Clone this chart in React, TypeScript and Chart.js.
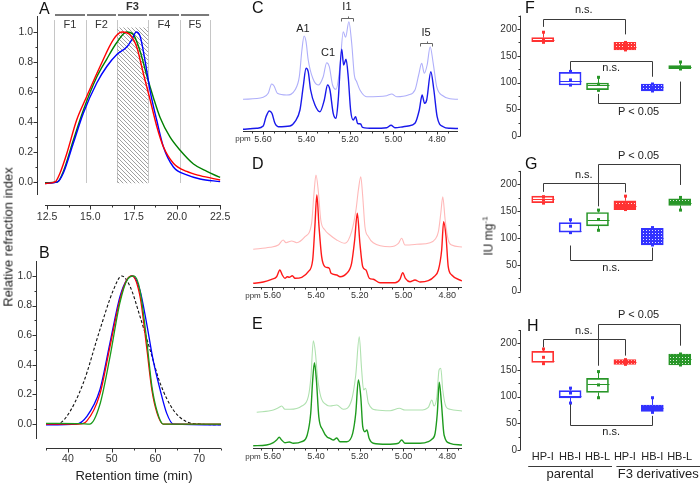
import React, { useEffect, useRef } from 'react';
import { Chart, registerables } from 'chart.js';

Chart.register(...registerables);

const FONT = '"Liberation Sans", Arial, Helvetica, sans-serif';
Chart.defaults.font.family = FONT;
Chart.defaults.color = '#222';

// ================= DATA =================
// Panel A: SEC of fractions (retention time, min / relative RI)
const aRedTime = [12.38, 12.96, 13.25, 13.64, 14.2, 14.79, 15.56, 16.33, 16.82, 17.3, 17.68, 18.07, 18.45, 18.84, 19.22, 19.8, 20.57, 21.34, 22.5];
const aRedRI = [-0.01, 0.0, 0.06, 0.19, 0.41, 0.57, 0.77, 0.95, 1.0, 0.98, 0.9, 0.72, 0.55, 0.37, 0.235, 0.125, 0.07, 0.042, 0.013];
const aBlueTime = [12.38, 13.1, 13.44, 14.02, 14.6, 15.37, 15.95, 16.53, 17.1, 17.4, 17.65, 17.88, 18.16, 18.45, 18.84, 19.22, 19.8, 20.57, 21.34, 22.5];
const aBlueRI = [-0.01, 0.0, 0.06, 0.26, 0.46, 0.66, 0.77, 0.85, 0.9, 0.95, 1.0, 0.97, 0.81, 0.61, 0.41, 0.235, 0.1, 0.047, 0.02, 0.002];
const aGreenTime = [12.38, 13.1, 13.44, 14.02, 14.6, 15.37, 15.95, 16.53, 17.1, 17.5, 17.88, 18.26, 18.65, 19.03, 19.6, 20.2, 20.96, 21.73, 22.5];
const aGreenRI = [-0.005, 0.0, 0.07, 0.28, 0.48, 0.7, 0.82, 0.93, 1.0, 0.98, 0.87, 0.71, 0.56, 0.43, 0.3, 0.21, 0.12, 0.07, 0.03];
const aHatchTime = [16.54, 18.33];
const aHatchTop = [1.03, 1.03];
const aFractionEdges = [12.9, 14.75, 16.54, 18.33, 20.18, 21.92];
const aFractionNames = ['F1', 'F2', 'F3', 'F4', 'F5'];
const aXTicks = [12.5, 15, 17.5, 20, 22.5];
const aXMinor = [13.75, 16.25, 18.75, 21.25];
const riTicks = [0, 0.2, 0.4, 0.6, 0.8, 1.0];
const riMinor = [0.1, 0.3, 0.5, 0.7, 0.9];

// Panel B
const bBlackTime = [35, 37.4, 39.7, 43.5, 47.3, 50.4, 52.3, 54.2, 56.5, 58.8, 61.1, 64.1, 67.2, 70.2, 75];
const bBlackRI = [0, 0, 0.05, 0.275, 0.635, 0.905, 1.0, 0.93, 0.725, 0.5, 0.275, 0.095, 0.015, 0, -0.005];
const bBlueTime = [35, 42.0, 44.3, 47.3, 49.6, 51.9, 53.4, 54.8, 56.5, 58.0, 59.5, 61.1, 62.6, 64.1, 75];
const bBlueRI = [-0.005, 0, 0.05, 0.23, 0.545, 0.86, 0.97, 1.0, 0.9, 0.68, 0.43, 0.23, 0.072, 0.0, -0.005];
const bRedTime = [35, 42.5, 44.3, 47.3, 49.6, 51.9, 53.4, 54.6, 56.5, 58.0, 59.2, 60.4, 61.8, 75];
const bRedRI = [0, 0, 0.02, 0.2, 0.52, 0.84, 0.97, 1.0, 0.86, 0.52, 0.23, 0.072, 0, 0];
const bGreenTime = [35, 43, 45.0, 47.3, 49.6, 51.9, 53.7, 55.1, 56.5, 58.0, 59.2, 60.4, 61.8, 75];
const bGreenRI = [0.005, 0.003, 0, 0.13, 0.45, 0.82, 0.98, 1.0, 0.9, 0.57, 0.255, 0.085, 0, 0];
const bXTicks = [40, 50, 60, 70];
const bXMinor = [35, 45, 55, 65, 75];

// Panels C-E: 1H NMR (ppm / intensity)
const nmrTicks = [5.6, 5.4, 5.2, 5.0, 4.8];
const nmrMinor = [5.65, 5.55, 5.5, 5.45, 5.35, 5.3, 5.25, 5.15, 5.1, 5.05, 4.95, 4.9, 4.85, 4.75];

const cDarkPpm = [5.692, 5.629, 5.599, 5.586, 5.571, 5.559, 5.545, 5.53, 5.476, 5.453, 5.43, 5.415, 5.402, 5.392, 5.381, 5.361, 5.338, 5.318, 5.303, 5.292, 5.277, 5.264, 5.254, 5.238, 5.229, 5.218, 5.208, 5.197, 5.185, 5.174, 5.165, 5.151, 5.142, 5.093, 5.031, 5.011, 4.993, 4.955, 4.932, 4.901, 4.881, 4.868, 4.857, 4.847, 4.828, 4.814, 4.799, 4.771, 4.74, 4.703];
const cDarkInt = [0.7, 1.7, 4, 13.3, 19, 16.7, 6.7, 3.3, 4, 8.3, 20, 43.3, 61.7, 58.3, 40, 25, 18.3, 30, 45, 40, 16.7, 11.7, 30, 80.7, 65, 70.7, 53.3, 20, 10, 13.3, 6.7, 6, 2.7, 1.7, 2.3, 4.7, 2.3, 3.3, 4, 6.7, 20, 35, 26.7, 30, 58.3, 40, 13.3, 3.3, 1.7, 1.5];
const cLightPpm = [5.692, 5.599, 5.576, 5.56, 5.549, 5.534, 5.491, 5.453, 5.433, 5.421, 5.411, 5.402, 5.392, 5.371, 5.346, 5.323, 5.307, 5.295, 5.28, 5.264, 5.246, 5.231, 5.22, 5.205, 5.192, 5.18, 5.169, 5.154, 5.123, 5.031, 5.008, 4.985, 4.932, 4.901, 4.884, 4.87, 4.858, 4.845, 4.831, 4.817, 4.801, 4.771, 4.74, 4.703];
const cLightInt = [30.7, 32.7, 36.7, 46, 44, 36.7, 35, 40, 53.3, 80, 94, 88.3, 70, 51.7, 45, 53.3, 67.3, 63.3, 45, 40.7, 63.3, 98.3, 92.7, 108.3, 86.7, 55, 48.3, 40, 33.3, 34.3, 36, 33.3, 35, 40, 55, 66.7, 56.7, 65, 83.3, 66.7, 43.3, 34, 31.3, 30.7];
const cPeakNames = ['A1', 'C1', 'I1', 'I5'];
const cPeakPpm = [5.416, 5.301, 5.214, 4.85];
const cPeakLabelInt = [101, 77, 123, 97];
const cGroupFrom = [5.241, 4.878];
const cGroupTo = [5.186, 4.823];
const cGroupInt = [112, 87];

const dDarkPpm = [5.687, 5.641, 5.603, 5.58, 5.565, 5.554, 5.542, 5.531, 5.522, 5.508, 5.496, 5.465, 5.435, 5.415, 5.405, 5.396, 5.386, 5.374, 5.359, 5.339, 5.331, 5.305, 5.29, 5.259, 5.237, 5.223, 5.211, 5.199, 5.186, 5.171, 5.156, 5.138, 5.107, 5.038, 5.016, 5.003, 4.991, 4.97, 4.947, 4.924, 4.886, 4.86, 4.84, 4.825, 4.816, 4.805, 4.795, 4.779, 4.732];
const dDarkInt = [1.7, 3, 5.7, 8.3, 15, 10, 6.7, 8.3, 7.7, 9.3, 6.7, 7.7, 13.3, 25, 58.3, 90, 58.3, 28.3, 18.3, 16.7, 11.7, 10, 8.3, 11.7, 21.7, 45, 71.7, 41.7, 18.3, 15, 6.7, 5.7, 2.3, 2.3, 5.7, 12.3, 6.7, 3.3, 5, 3, 4.3, 8.3, 15, 35, 63.3, 48.3, 18.3, 10, 4];
const dLightPpm = [5.687, 5.61, 5.572, 5.55, 5.537, 5.511, 5.488, 5.45, 5.42, 5.409, 5.4, 5.389, 5.378, 5.359, 5.336, 5.305, 5.267, 5.237, 5.217, 5.206, 5.195, 5.186, 5.176, 5.16, 5.138, 5.061, 5.023, 5.008, 4.993, 4.939, 4.878, 4.855, 4.84, 4.829, 4.82, 4.809, 4.795, 4.779, 4.732];
const dLightInt = [35.7, 37.7, 40, 45, 42.3, 44, 42.3, 48.3, 61.7, 91.7, 110, 93.3, 65, 55, 50, 45, 41.7, 53.3, 75, 95, 108.3, 88.3, 58.3, 48.3, 42.3, 38.3, 41.7, 46.7, 40, 40.7, 42.3, 45.7, 53.3, 71.7, 88.3, 65, 45, 40, 38];

const eDarkPpm = [5.687, 5.626, 5.595, 5.58, 5.568, 5.557, 5.542, 5.522, 5.504, 5.465, 5.44, 5.424, 5.415, 5.407, 5.398, 5.387, 5.369, 5.348, 5.336, 5.32, 5.305, 5.29, 5.259, 5.232, 5.218, 5.206, 5.195, 5.186, 5.176, 5.167, 5.157, 5.138, 5.076, 5.023, 5.008, 4.993, 4.924, 4.886, 4.87, 4.855, 4.845, 4.836, 4.826, 4.814, 4.787, 4.732];
const eDarkInt = [1.3, 2, 4.3, 7, 9.7, 7, 4.3, 5, 3.7, 5.3, 12, 33.7, 67, 84.3, 67, 30.3, 17, 9.7, 8.7, 7, 9, 5.3, 5.3, 13.7, 33.7, 67, 50.3, 20.3, 15.3, 17, 8.7, 3.7, 2.7, 3.7, 7, 3.7, 3.7, 5.3, 7.7, 13.7, 33.7, 64.7, 43.7, 12, 3.7, 2];
const eLightPpm = [5.671, 5.595, 5.568, 5.557, 5.542, 5.519, 5.465, 5.435, 5.423, 5.412, 5.403, 5.393, 5.378, 5.351, 5.336, 5.305, 5.275, 5.237, 5.218, 5.202, 5.191, 5.182, 5.173, 5.16, 5.122, 5.061, 5.018, 4.993, 4.924, 4.886, 4.87, 4.86, 4.847, 4.837, 4.829, 4.82, 4.805, 4.787, 4.732];
const eLightInt = [34.7, 37, 39.7, 41, 37.7, 37.7, 41, 50.3, 70.3, 106.3, 95.3, 70.3, 50.3, 42, 41, 42, 37.7, 47, 72, 110.3, 77, 57, 58.7, 43.7, 37, 36.3, 38.7, 37, 37, 39.7, 47, 41, 50.3, 77, 78.7, 57, 40.3, 37.7, 36];

// Panels F-H: activity box plots (IU mg-1)
const boxCategories = ['HP-I', 'HB-I', 'HB-L', 'HP-I', 'HB-I', 'HB-L'];
const boxGroupNames = ['parental', 'F3 derivatives'];
const boxGroupFrom = [0, 3];
const boxGroupTo = [2, 5];
const boxTicks = [0, 50, 100, 150, 200];
const boxMinor = [25, 75, 125, 175, 225];

const fQ1 = [176.4, 95.7, 87, 161, 84.5, 126];
const fQ3 = [183.9, 119.3, 99.4, 175, 97.5, 131.7];
const fMedian = [180, 103, 95, 167, 91, 129];
const fLow = [175.2, 95.5, 85.7, 161, 84.5, 125.5];
const fHigh = [194, 121, 110, 175, 97.5, 138.5];
const fMean = [180, 105, 97, 168, 91, 129];
const fSigFrom = [0, 1, 2];
const fSigTo = [3, 4, 5];
const fSigLevel = [218.6, 140, 62.7];
const fSigLeftEnd = [204, 123.6, 79];
const fSigRightEnd = [190, 111, 102];
const fSigText = ['n.s.', 'n.s.', 'P < 0.05'];
const fSigTextAt = [235, 126.7, 46];

const gQ1 = [166, 111, 122.5, 153, 87, 160.6];
const gQ3 = [178, 128.8, 147.5, 169.4, 118, 173];
const gMedian = [173, 113, 134.4, 160, 100, 166];
const gLow = [165, 110, 114.4, 153, 87, 152];
const gHigh = [177, 134, 152, 178, 119.4, 175.6];
const gMean = [171, 122, 134.4, 162, 103, 166];
const gSigFrom = [0, 2, 1];
const gSigTo = [3, 5, 4];
const gSigLevel = [201.9, 238, 59.4];
const gSigLeftEnd = [186, 159, 86];
const gSigRightEnd = [185, 198.8, 82];
const gSigText = ['n.s.', 'P < 0.05', 'n.s.'];
const gSigTextAt = [217.5, 253, 44.4];

const hQ1 = [164.4, 97.5, 108, 160.6, 72.5, 159.4];
const hQ3 = [185, 111.3, 134.4, 169.4, 84.4, 180];
const hMedian = [167.5, 102, 123, 165, 78, 170];
const hLow = [161.9, 88, 98, 160.6, 70.6, 159.4];
const hHigh = [189.4, 116, 147, 169.4, 98, 180];
const hMean = [173.8, 106.9, 122, 165, 78, 170];
const hSigFrom = [0, 2, 1];
const hSigTo = [3, 5, 4];
const hSigLevel = [208, 236, 46.9];
const hSigLeftEnd = [192.5, 158, 86];
const hSigRightEnd = [177, 195.6, 64];
const hSigText = ['n.s.', 'P < 0.05', 'n.s.'];
const hSigTextAt = [223.8, 253, 33];

// ================= STYLE =================
const RED = 'rgb(255,50,50)';
const BLUE = 'rgb(50,50,255)';
const GREEN = 'rgb(40,150,40)';
const boxPalette = [RED, BLUE, GREEN, RED, BLUE, GREEN];

const xy = (xs: number[], ys: number[]) => xs.map((x, i) => ({ x, y: ys[i] }));
const fixedTicks = (vals: number[]) => (s: any) => { s.ticks = vals.map((value) => ({ value })); };
const fixedWidth = (w: number) => (s: any) => { s.width = w; s.paddingTop = 0; s.paddingBottom = 0; };
const fixedHeight = (h: number) => (s: any) => { s.height = h; s.paddingLeft = 0; s.paddingRight = 0; };
const hidden = { grid: { display: false, drawTicks: false }, border: { display: false } };

function makeHatch(): CanvasPattern {
  const c = document.createElement('canvas');
  c.width = 4; c.height = 4;
  const g = c.getContext('2d')!;
  g.fillStyle = '#a0a0a0';
  for (let i = 0; i < 4; i++) g.fillRect(i, i, 1, 1);
  return g.createPattern(c, 'repeat')!;
}
function makeCheck(color: string): CanvasPattern {
  const c = document.createElement('canvas');
  c.width = 3; c.height = 3;
  const g = c.getContext('2d')!;
  g.fillStyle = color; g.fillRect(0, 0, 3, 3);
  g.fillStyle = 'rgba(255,255,255,0.85)'; g.fillRect(1, 1, 1, 1);
  return g.createPattern(c, 'repeat')!;
}

// ================= PLUGINS =================
const framePlugin = {
  id: 'frame',
  afterDraw(chart: any, _a: any, o: any) {
    const { ctx, chartArea: ca, scales } = chart;
    ctx.save();
    ctx.strokeStyle = '#333';
    ctx.lineWidth = 1;
    ctx.beginPath();
    if (o.x) {
      const s = scales.x;
      const lo = Math.min(s.min, s.max), hi = Math.max(s.min, s.max);
      const y = Math.round(ca.bottom + o.x.offset) + 0.5;
      ctx.moveTo(ca.left, y); ctx.lineTo(ca.right, y);
      const tick = (v: number, len: number) => {
        if (v < lo || v > hi) return;
        const p = Math.round(s.getPixelForValue(v)) + 0.5;
        ctx.moveTo(p, y); ctx.lineTo(p, y + len);
      };
      o.x.major.forEach((v: number) => tick(v, o.x.majorLen));
      (o.x.minor || []).forEach((v: number) => tick(v, o.x.minorLen));
    }
    if (o.y) {
      const s = scales.y;
      const x = Math.round(ca.left - o.y.offset) + 0.5;
      ctx.moveTo(x, ca.top); ctx.lineTo(x, ca.bottom);
      const tick = (v: number, len: number) => {
        if (v < s.min || v > s.max) return;
        const p = Math.round(s.getPixelForValue(v)) + 0.5;
        ctx.moveTo(x, p); ctx.lineTo(x - len, p);
      };
      o.y.major.forEach((v: number) => tick(v, o.y.majorLen));
      (o.y.minor || []).forEach((v: number) => tick(v, o.y.minorLen));
    }
    ctx.stroke();
    ctx.restore();
  },
};

const fractionPlugin = {
  id: 'fractions',
  beforeDatasetsDraw(chart: any, _a: any, o: any) {
    const { ctx, scales: { x, y } } = chart;
    ctx.save();
    ctx.strokeStyle = '#c6c6c6';
    ctx.lineWidth = 1;
    ctx.beginPath();
    const t = y.getPixelForValue(o.lineTop), b = y.getPixelForValue(o.lineBottom);
    o.edges.forEach((e: number) => {
      const p = Math.round(x.getPixelForValue(e)) + 0.5;
      ctx.moveTo(p, t); ctx.lineTo(p, b);
    });
    ctx.stroke();
    ctx.restore();
  },
  afterDatasetsDraw(chart: any, _a: any, o: any) {
    const { ctx, scales: { x, y } } = chart;
    ctx.save();
    ctx.strokeStyle = '#7a7a7a';
    ctx.lineWidth = 2;
    const by = y.getPixelForValue(o.barY);
    ctx.beginPath();
    for (let i = 0; i < o.names.length; i++) {
      ctx.moveTo(x.getPixelForValue(o.edges[i]) + 1, by);
      ctx.lineTo(x.getPixelForValue(o.edges[i + 1]) - 1, by);
    }
    ctx.stroke();
    ctx.textAlign = 'center';
    ctx.textBaseline = 'middle';
    ctx.fillStyle = '#333';
    o.names.forEach((n: string, i: number) => {
      const mid = x.getPixelForValue((o.edges[i] + o.edges[i + 1]) / 2);
      if (n === o.bold) {
        ctx.font = `bold 11px ${FONT}`;
        ctx.fillText(n, mid, y.getPixelForValue(o.boldY));
      } else {
        ctx.font = `11px ${FONT}`;
        ctx.fillText(n, mid, y.getPixelForValue(o.labelY));
      }
    });
    ctx.restore();
  },
};

const nmrPlugin = {
  id: 'nmr',
  afterDraw(chart: any, _a: any, o: any) {
    const { ctx, chartArea: ca, scales: { x, y } } = chart;
    ctx.save();
    ctx.fillStyle = '#333';
    ctx.textAlign = 'center';
    ctx.textBaseline = 'middle';
    ctx.font = `8px ${FONT}`;
    ctx.fillText(o.unit, ca.left, ca.bottom + o.unitDy);
    if (o.names) {
      ctx.font = `11px ${FONT}`;
      ctx.fillStyle = '#222';
      o.names.forEach((n: string, i: number) => ctx.fillText(n, x.getPixelForValue(o.namePpm[i]), y.getPixelForValue(o.nameInt[i])));
      ctx.strokeStyle = '#666';
      ctx.lineWidth = 1;
      ctx.beginPath();
      o.groupFrom.forEach((f: number, i: number) => {
        const a = Math.round(x.getPixelForValue(f)) + 0.5;
        const b = Math.round(x.getPixelForValue(o.groupTo[i])) + 0.5;
        const yy = Math.round(y.getPixelForValue(o.groupInt[i])) + 0.5;
        ctx.moveTo(a, yy + 3); ctx.lineTo(a, yy); ctx.lineTo(b, yy); ctx.lineTo(b, yy + 3);
        const m = Math.round((a + b) / 2) + 0.5;
        ctx.moveTo(m, yy); ctx.lineTo(m, yy - 2);
      });
      ctx.stroke();
    }
    ctx.restore();
  },
};

const boxPlugin = {
  id: 'boxes',
  afterDatasetsDraw(chart: any, _a: any, o: any) {
    const { ctx, chartArea: ca, scales: { x, y } } = chart;
    const Y = (v: number) => y.getPixelForValue(v);
    const X = (i: number) => x.getPixelForValue(i);
    ctx.save();
    ctx.lineWidth = 1;
    o.median.forEach((m: number, i: number) => {
      const cx = Math.round(X(i)) + 0.5;
      ctx.strokeStyle = o.colors[i];
      ctx.fillStyle = o.colors[i];
      ctx.beginPath();
      const my = Math.round(Y(m)) + 0.5;
      ctx.moveTo(cx - o.half, my); ctx.lineTo(cx + o.half, my);
      if (o.high[i] > o.q3[i]) { ctx.moveTo(cx, Y(o.q3[i])); ctx.lineTo(cx, Y(o.high[i])); }
      if (o.low[i] < o.q1[i]) { ctx.moveTo(cx, Y(o.q1[i])); ctx.lineTo(cx, Y(o.low[i])); }
      ctx.stroke();
      [o.low[i], o.high[i], o.mean[i]].forEach((v: number) => ctx.fillRect(cx - 1.5, Y(v) - 1.5, 3, 3));
    });
    ctx.strokeStyle = '#3a3a3a';
    ctx.beginPath();
    o.sigFrom.forEach((f: number, i: number) => {
      const a = Math.round(X(f)) + 0.5, b = Math.round(X(o.sigTo[i])) + 0.5;
      const lv = Math.round(Y(o.sigLevel[i])) + 0.5;
      ctx.moveTo(a, Y(o.sigLeftEnd[i])); ctx.lineTo(a, lv); ctx.lineTo(b, lv); ctx.lineTo(b, Y(o.sigRightEnd[i]));
    });
    ctx.stroke();
    ctx.fillStyle = '#222';
    ctx.font = `11px ${FONT}`;
    ctx.textAlign = 'center';
    ctx.textBaseline = 'middle';
    o.sigText.forEach((t: string, i: number) => ctx.fillText(t, (X(o.sigFrom[i]) + X(o.sigTo[i])) / 2, Y(o.sigTextAt[i])));
    if (o.groups) {
      ctx.font = `13px ${FONT}`;
      ctx.beginPath();
      o.groups.names.forEach((n: string, g: number) => {
        const c = (X(o.groups.from[g]) + X(o.groups.to[g])) / 2 + o.groups.shift[g];
        const half = (X(o.groups.to[g]) - X(o.groups.from[g])) / 2 + o.groups.extra;
        const uy = Math.round(ca.bottom + o.groups.lineDy) + 0.5;
        ctx.moveTo(c - half, uy); ctx.lineTo(c + half, uy);
        ctx.fillText(n, c, ca.bottom + o.groups.textDy);
      });
      ctx.stroke();
    }
    ctx.restore();
  },
};

// ================= CONFIGS =================
const common = { responsive: false, animation: false, events: [] as any[] };
const noLegend = { legend: { display: false }, tooltip: { enabled: false } };
const curve = (xs: number[], ys: number[], color: string, width = 1.4, dash: number[] = []) => ({
  data: xy(xs, ys), borderColor: color, borderWidth: width, borderDash: dash, pointRadius: 0, cubicInterpolationMode: 'monotone', fill: false,
});
const fmt1 = (v: any) => Number(v).toFixed(1);
const fmt2 = (v: any) => Number(v).toFixed(2);

function configA(): any {
  return {
    type: 'line',
    data: {
      datasets: [
        curve(aRedTime, aRedRI, '#ff0000'),
        curve(aBlueTime, aBlueRI, '#0000ff'),
        curve(aGreenTime, aGreenRI, '#008000'),
        { data: xy(aHatchTime, aHatchTop), borderWidth: 0, pointRadius: 0, backgroundColor: makeHatch(), fill: { value: -0.009 }, order: 5 },
      ],
    },
    options: {
      ...common,
      layout: { padding: { left: 0, right: 11, top: 16, bottom: 0 } },
      plugins: {
        ...noLegend,
        frame: { x: { offset: 10, major: aXTicks, minor: aXMinor, majorLen: 4, minorLen: 2 }, y: { offset: 8, major: riTicks, minor: riMinor, majorLen: 4, minorLen: 2 } },
        fractions: { edges: aFractionEdges, names: aFractionNames, bold: 'F3', lineTop: 1.08, lineBottom: -0.007, labelY: 1.05, barY: 1.113, boldY: 1.167 },
      },
      scales: {
        x: { type: 'linear', min: 12.38, max: 22.55, afterBuildTicks: fixedTicks(aXTicks), afterFit: fixedHeight(37), ...hidden, ticks: { autoSkip: false, maxRotation: 0, padding: 16, font: { size: 10.5 }, color: '#333', callback: fmt1 } },
        y: { type: 'linear', min: -0.087, max: 1.107, afterBuildTicks: fixedTicks(riTicks), afterFit: fixedWidth(45), ...hidden, ticks: { padding: 12, font: { size: 10.5 }, color: '#333', callback: fmt1 } },
      },
    },
    plugins: [framePlugin, fractionPlugin],
  };
}

function configB(): any {
  return {
    type: 'line',
    data: {
      datasets: [
        curve(bGreenTime, bGreenRI, '#1a9a1a', 1.3),
        curve(bRedTime, bRedRI, '#ff0000', 1.3),
        curve(bBlueTime, bBlueRI, '#0000ff', 1.3),
        curve(bBlackTime, bBlackRI, '#111111', 1.1, [3, 2]),
      ],
    },
    options: {
      ...common,
      layout: { padding: { left: 0, right: 11, top: 26, bottom: 0 } },
      plugins: {
        ...noLegend,
        frame: { x: { offset: 9, major: bXTicks, minor: bXMinor, majorLen: 4, minorLen: 2 }, y: { offset: 10, major: riTicks, minor: riMinor, majorLen: 4, minorLen: 2 } },
      },
      scales: {
        x: { type: 'linear', min: 35, max: 75, afterBuildTicks: fixedTicks(bXTicks), afterFit: fixedHeight(44), ...hidden, ticks: { autoSkip: false, maxRotation: 0, padding: 14, font: { size: 10.5 }, color: '#333' } },
        y: { type: 'linear', min: -0.101, max: 1.101, afterBuildTicks: fixedTicks(riTicks), afterFit: fixedWidth(46), ...hidden, ticks: { padding: 14, font: { size: 10.5 }, color: '#333', callback: fmt1 } },
      },
    },
    plugins: [framePlugin],
  };
}

function configNMR(p: any): any {
  return {
    type: 'line',
    data: {
      datasets: [
        curve(p.darkPpm, p.darkInt, p.dark, 1.4),
        curve(p.lightPpm, p.lightInt, p.light, 1.1),
      ],
    },
    options: {
      ...common,
      layout: { padding: { left: 13, right: p.padRight, top: p.padTop, bottom: 0 } },
      plugins: {
        ...noLegend,
        frame: { x: { offset: 0, major: nmrTicks, minor: nmrMinor, majorLen: 3, minorLen: 2 } },
        nmr: { unit: 'ppm', unitDy: p.unitDy, names: p.names, namePpm: p.namePpm, nameInt: p.nameInt, groupFrom: p.groupFrom, groupTo: p.groupTo, groupInt: p.groupInt },
      },
      scales: {
        x: { type: 'linear', reverse: true, min: p.xmin, max: p.xmax, afterBuildTicks: fixedTicks(nmrTicks), afterFit: fixedHeight(p.xHeight), ...hidden, ticks: { autoSkip: false, maxRotation: 0, padding: 3, font: { size: 9 }, color: '#333', callback: fmt2 } },
        y: { type: 'linear', display: false, min: p.ymin, max: p.ymax },
      },
    },
    plugins: [framePlugin, nmrPlugin],
  };
}

function configBox(p: any): any {
  const fills = boxPalette.map((c, i) => (i < 3 ? 'rgba(255,255,255,0)' : makeCheck(c)));
  const xScale: any = { type: 'category', display: p.showX, ...hidden, ticks: { autoSkip: false, maxRotation: 0, padding: 0, font: { size: 11 }, color: '#222' } };
  if (p.showX) xScale.afterFit = fixedHeight(33);
  return {
    type: 'bar',
    data: {
      labels: boxCategories,
      datasets: [
        { data: p.q1.map((v: number, i: number) => [v, p.q3[i]]), backgroundColor: fills, borderColor: boxPalette, borderWidth: 1, borderSkipped: false, barThickness: 22 },
      ],
    },
    options: {
      ...common,
      layout: { padding: { left: 0, right: 6.6, top: p.padTop, bottom: p.padBottom } },
      plugins: {
        ...noLegend,
        frame: { y: { offset: 9, major: boxTicks, minor: boxMinor, majorLen: 3, minorLen: 2 } },
        boxes: {
          q1: p.q1, q3: p.q3, median: p.median, low: p.low, high: p.high, mean: p.mean, colors: boxPalette, half: 11,
          sigFrom: p.sigFrom, sigTo: p.sigTo, sigLevel: p.sigLevel, sigLeftEnd: p.sigLeftEnd, sigRightEnd: p.sigRightEnd, sigText: p.sigText, sigTextAt: p.sigTextAt,
          groups: p.showX ? { names: boxGroupNames, from: boxGroupFrom, to: boxGroupTo, shift: [0, 6], extra: 14.5, lineDy: 16, textDy: 24.5 } : null,
        },
      },
      scales: {
        x: xScale,
        y: { type: 'linear', min: 0, max: 225, afterBuildTicks: fixedTicks(boxTicks), afterFit: fixedWidth(49), ...hidden, ticks: { padding: 12, font: { size: 10 }, color: '#333' } },
      },
    },
    plugins: [framePlugin, boxPlugin],
  };
}

// ================= COMPONENTS =================
function ChartCanvas({ left, top, width, height, make }: { left: number; top: number; width: number; height: number; make: () => any }) {
  const ref = useRef<HTMLCanvasElement>(null);
  useEffect(() => {
    const chart = new Chart(ref.current as HTMLCanvasElement, make());
    return () => chart.destroy();
  }, []);
  return <canvas ref={ref} width={width} height={height} style={{ position: 'absolute', left, top, width, height }} />;
}

function Letter({ x, y, children }: { x: number; y: number; children: React.ReactNode }) {
  return <div style={{ position: 'absolute', left: x, top: y, fontSize: 16, lineHeight: '16px', color: '#111' }}>{children}</div>;
}

function Rotated({ cx, cy, size, children }: { cx: number; cy: number; size: number; children: React.ReactNode }) {
  return (
    <div style={{ position: 'absolute', left: cx, top: cy, fontSize: size, lineHeight: 1, whiteSpace: 'nowrap', color: '#222', fontWeight: 400, transform: 'translate(-50%, -50%) rotate(-90deg)' }}>{children}</div>
  );
}

export default function App() {
  return (
    <div style={{ position: 'absolute', left: 0, top: 0, width: 700, height: 483, background: '#fff', overflow: 'hidden', fontFamily: FONT }}>
      <ChartCanvas left={0} top={0} width={232} height={232} make={configA} />
      <ChartCanvas left={0} top={235} width={232} height={248} make={configB} />
      <ChartCanvas left={230} top={0} width={235} height={152} make={() => configNMR({
        darkPpm: cDarkPpm, darkInt: cDarkInt, lightPpm: cLightPpm, lightInt: cLightInt, dark: 'rgb(25,25,235)', light: 'rgb(175,175,250)',
        padRight: 7, padTop: 12, xmin: 4.703, xmax: 5.692, ymin: -1, ymax: 118, xHeight: 21, unitDy: 8,
        names: cPeakNames, namePpm: cPeakPpm, nameInt: cPeakLabelInt, groupFrom: cGroupFrom, groupTo: cGroupTo, groupInt: cGroupInt,
      })} />
      <ChartCanvas left={240} top={155} width={230} height={150} make={() => configNMR({
        darkPpm: dDarkPpm, darkInt: dDarkInt, lightPpm: dLightPpm, lightInt: dLightInt, dark: 'rgb(255,25,25)', light: 'rgb(255,185,185)',
        padRight: 8, padTop: 10, xmin: 4.732, xmax: 5.688, ymin: -2, ymax: 120, xHeight: 18, unitDy: 9,
      })} />
      <ChartCanvas left={240} top={315} width={230} height={160} make={() => configNMR({
        darkPpm: eDarkPpm, darkInt: eDarkInt, lightPpm: eLightPpm, lightInt: eLightInt, dark: 'rgb(30,155,30)', light: 'rgb(175,225,175)',
        padRight: 8, padTop: 10, xmin: 4.732, xmax: 5.688, ymin: -1.3, ymax: 122, xHeight: 26.7, unitDy: 8.7,
      })} />
      <ChartCanvas left={480} top={0} width={220} height={150} make={() => configBox({
        q1: fQ1, q3: fQ3, median: fMedian, low: fLow, high: fHigh, mean: fMean,
        sigFrom: fSigFrom, sigTo: fSigTo, sigLevel: fSigLevel, sigLeftEnd: fSigLeftEnd, sigRightEnd: fSigRightEnd, sigText: fSigText, sigTextAt: fSigTextAt,
        showX: false, padTop: 15.6, padBottom: 13.7,
      })} />
      <ChartCanvas left={480} top={145} width={220} height={160} make={() => configBox({
        q1: gQ1, q3: gQ3, median: gMedian, low: gLow, high: gHigh, mean: gMean,
        sigFrom: gSigFrom, sigTo: gSigTo, sigLevel: gSigLevel, sigLeftEnd: gSigLeftEnd, sigRightEnd: gSigRightEnd, sigText: gSigText, sigTextAt: gSigTextAt,
        showX: false, padTop: 25.9, padBottom: 13.3,
      })} />
      <ChartCanvas left={480} top={305} width={220} height={178} make={() => configBox({
        q1: hQ1, q3: hQ3, median: hMedian, low: hLow, high: hHigh, mean: hMean,
        sigFrom: hSigFrom, sigTo: hSigTo, sigLevel: hSigLevel, sigLeftEnd: hSigLeftEnd, sigRightEnd: hSigRightEnd, sigText: hSigText, sigTextAt: hSigTextAt,
        showX: true, padTop: 25, padBottom: 0,
      })} />

      <Letter x={39} y={1}>A</Letter>
      <Letter x={39} y={245}>B</Letter>
      <Letter x={252} y={0}>C</Letter>
      <Letter x={252} y={156}>D</Letter>
      <Letter x={252} y={316}>E</Letter>
      <Letter x={525} y={0}>F</Letter>
      <Letter x={525} y={156}>G</Letter>
      <Letter x={527} y={318}>H</Letter>

      <Rotated cx={8} cy={237} size={13}>Relative refraction index</Rotated>
      <div style={{ position: 'absolute', left: 134, top: 475, transform: 'translate(-50%, -50%)', fontSize: 13, lineHeight: 1, whiteSpace: 'nowrap', color: '#222' }}>Retention time (min)</div>
      <Rotated cx={488} cy={236} size={12}><span>IU mg<sup style={{ fontSize: 8 }}>-1</sup></span></Rotated>
    </div>
  );
}
